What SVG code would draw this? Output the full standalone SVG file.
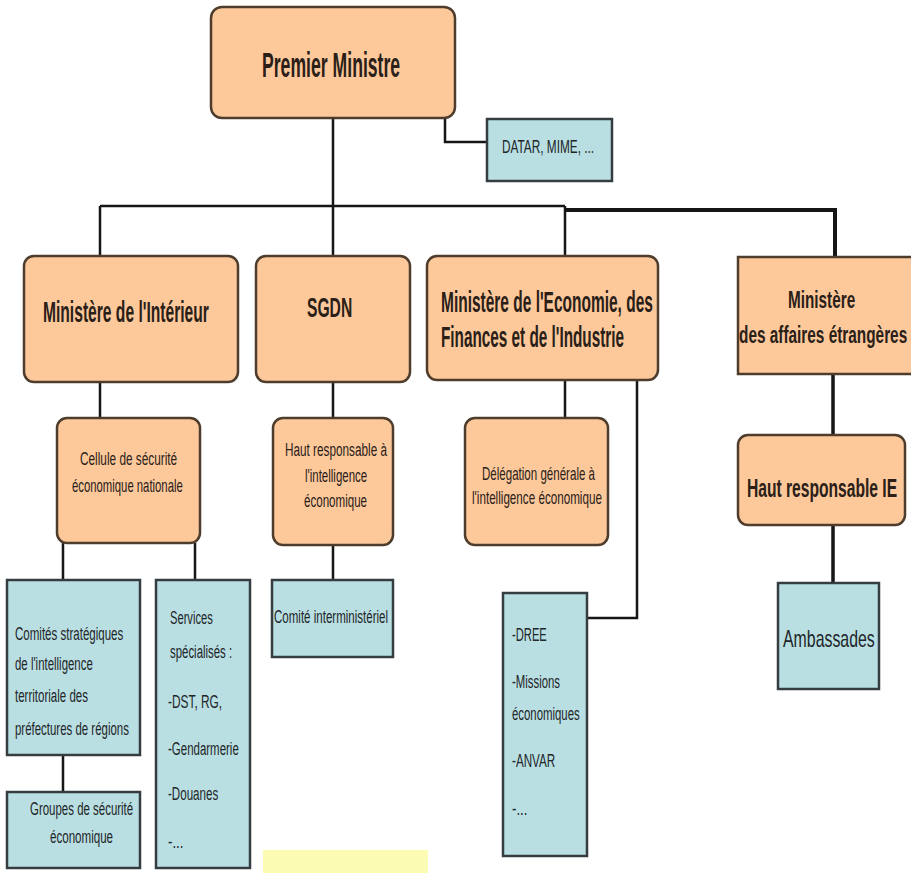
<svg xmlns="http://www.w3.org/2000/svg" width="911" height="873" viewBox="0 0 911 873">
<style>
.o{fill:#fdc99b;stroke:#4e3c2c;stroke-width:2.5}
.b{fill:#b9dfe3;stroke:#353d40;stroke-width:2.5}
.c{fill:none;stroke:#161616;stroke-width:2.5}
.t{font-family:"Liberation Sans",Arial,sans-serif;fill:#2a2018}
.tb{font-weight:bold}
.u{font-family:"Liberation Sans",Arial,sans-serif;fill:#1e2628}
text{font-size:19px}
</style>
<rect width="911" height="873" fill="#ffffff"/>
<rect x="263" y="850" width="165" height="23" fill="#fcfbb4"/>
<g id="connectors">
<path class="c" d="M333 118V206M445 118V142H487"/>
<path class="c" d="M100 206H565M100 206V256M333 206V256M565 206V256"/>
<path class="c" d="M565 210H835V257" style="stroke-width:4"/>
<path class="c" d="M100 382V418M63 543V580M195 543V580M63 755V792"/>
<path class="c" d="M333 382V418M333 545V580"/>
<path class="c" d="M565 380V418M637 380V618H587"/>
<path class="c" d="M833 374V435M833 525V583" style="stroke-width:3.5"/>
</g>
<g id="premier"><rect class="o" x="211" y="7" width="244" height="111" rx="11"/>
<text class="t tb" transform="translate(262,77) scale(0.45,1)" style="font-size:35px" textLength="307" lengthAdjust="spacingAndGlyphs">Premier Ministre</text></g>
<g id="datar"><rect class="b" x="487" y="119" width="125" height="62"/>
<text class="u" transform="translate(502,153) scale(0.61,1)" textLength="151" lengthAdjust="spacingAndGlyphs">DATAR, MIME, ...</text></g>
<g id="interieur"><rect class="o" x="24" y="256" width="214" height="126" rx="10"/>
<text class="t tb" transform="translate(43,322) scale(0.42,1)" style="font-size:30px" textLength="395" lengthAdjust="spacingAndGlyphs">Ministère de l'Intérieur</text></g>
<g id="sgdn"><rect class="o" x="256" y="256" width="154" height="126" rx="10"/>
<text class="t tb" transform="translate(307,317) scale(0.58,1)" style="font-size:27px" textLength="78" lengthAdjust="spacingAndGlyphs">SGDN</text></g>
<g id="economie"><rect class="o" x="427" y="256" width="231" height="124" rx="10"/>
<text class="t tb" transform="translate(441,312) scale(0.474,1)" style="font-size:29px" textLength="447" lengthAdjust="spacingAndGlyphs">Ministère de l'Economie, des</text>
<text class="t tb" transform="translate(441,347) scale(0.44,1)" style="font-size:29px" textLength="416" lengthAdjust="spacingAndGlyphs">Finances et de l'Industrie</text></g>
<g id="affaires"><rect class="o" x="738" y="257" width="180" height="117"/>
<text class="t tb" transform="translate(788,308) scale(0.56,1)" style="font-size:23px" textLength="120" lengthAdjust="spacingAndGlyphs">Ministère</text>
<text class="t tb" transform="translate(739,343) scale(0.58,1)" style="font-size:23px" textLength="290" lengthAdjust="spacingAndGlyphs">des affaires étrangères</text></g>
<g id="cellule"><rect class="o" x="57" y="418" width="143" height="125" rx="10"/>
<text class="t" transform="translate(80,465) scale(0.54,1)" textLength="180" lengthAdjust="spacingAndGlyphs">Cellule de sécurité</text>
<text class="t" transform="translate(72,492) scale(0.58,1)" textLength="191" lengthAdjust="spacingAndGlyphs">économique nationale</text></g>
<g id="haut-resp"><rect class="o" x="273" y="418" width="120" height="127" rx="10"/>
<text class="t" transform="translate(285,456) scale(0.6,1)" textLength="170" lengthAdjust="spacingAndGlyphs">Haut responsable à</text>
<text class="t" transform="translate(305,482) scale(0.55,1)" textLength="113" lengthAdjust="spacingAndGlyphs">l'intelligence</text>
<text class="t" transform="translate(304,507) scale(0.63,1)" textLength="100" lengthAdjust="spacingAndGlyphs">économique</text></g>
<g id="delegation"><rect class="o" x="465" y="418" width="143" height="127" rx="10"/>
<text class="t" transform="translate(482,480) scale(0.565,1)" textLength="200" lengthAdjust="spacingAndGlyphs">Délégation générale à</text>
<text class="t" transform="translate(472,504) scale(0.58,1)" textLength="224" lengthAdjust="spacingAndGlyphs">l'intelligence économique</text></g>
<g id="haut-resp-ie"><rect class="o" x="738" y="435" width="167" height="90" rx="10"/>
<text class="t tb" transform="translate(747,497) scale(0.575,1)" style="font-size:25px" textLength="261" lengthAdjust="spacingAndGlyphs">Haut responsable IE</text></g>
<g id="comites"><rect class="b" x="7" y="580" width="133" height="175"/>
<text class="u" transform="translate(15,640) scale(0.57,1)" textLength="190" lengthAdjust="spacingAndGlyphs">Comités stratégiques</text>
<text class="u" transform="translate(15,670) scale(0.54,1)" textLength="144" lengthAdjust="spacingAndGlyphs">de l'intelligence</text>
<text class="u" transform="translate(15,702) scale(0.57,1)" textLength="128" lengthAdjust="spacingAndGlyphs">territoriale des</text>
<text class="u" transform="translate(15,735) scale(0.545,1)" textLength="209" lengthAdjust="spacingAndGlyphs">préfectures de régions</text></g>
<g id="groupes"><rect class="b" x="7" y="792" width="133" height="76"/>
<text class="u" transform="translate(30,815) scale(0.57,1)" textLength="181" lengthAdjust="spacingAndGlyphs">Groupes de sécurité</text>
<text class="u" transform="translate(50,843) scale(0.63,1)" textLength="100" lengthAdjust="spacingAndGlyphs">économique</text></g>
<g id="services"><rect class="b" x="156" y="580" width="94" height="288"/>
<text class="u" transform="translate(170,624) scale(0.57,1)" textLength="75" lengthAdjust="spacingAndGlyphs">Services</text>
<text class="u" transform="translate(170,658) scale(0.56,1)" textLength="111" lengthAdjust="spacingAndGlyphs">spécialisés :</text>
<text class="u" transform="translate(168,708) scale(0.57,1)" textLength="95" lengthAdjust="spacingAndGlyphs">-DST, RG,</text>
<text class="u" transform="translate(168,755) scale(0.6,1)" textLength="118" lengthAdjust="spacingAndGlyphs">-Gendarmerie</text>
<text class="u" transform="translate(168,800) scale(0.62,1)" textLength="81" lengthAdjust="spacingAndGlyphs">-Douanes</text>
<text class="u" transform="translate(168,848) scale(0.7,1)">-...</text></g>
<g id="comite-inter"><rect class="b" x="272" y="580" width="121" height="77"/>
<text class="u" transform="translate(274,623) scale(0.62,1)" textLength="184" lengthAdjust="spacingAndGlyphs">Comité interministériel</text></g>
<g id="dree"><rect class="b" x="503" y="593" width="84" height="263"/>
<text class="u" transform="translate(512,641) scale(0.59,1)" textLength="59" lengthAdjust="spacingAndGlyphs">-DREE</text>
<text class="u" transform="translate(512,688) scale(0.6,1)" textLength="80" lengthAdjust="spacingAndGlyphs">-Missions</text>
<text class="u" transform="translate(512,720) scale(0.61,1)" textLength="111" lengthAdjust="spacingAndGlyphs">économiques</text>
<text class="u" transform="translate(512,767) scale(0.6,1)" textLength="72" lengthAdjust="spacingAndGlyphs">-ANVAR</text>
<text class="u" transform="translate(512,815) scale(0.7,1)">-...</text></g>
<g id="ambassades"><rect class="b" x="778" y="583" width="101" height="106"/>
<text class="u" transform="translate(783,647) scale(0.66,1)" style="font-size:24px" textLength="139" lengthAdjust="spacingAndGlyphs">Ambassades</text></g>
</svg>
